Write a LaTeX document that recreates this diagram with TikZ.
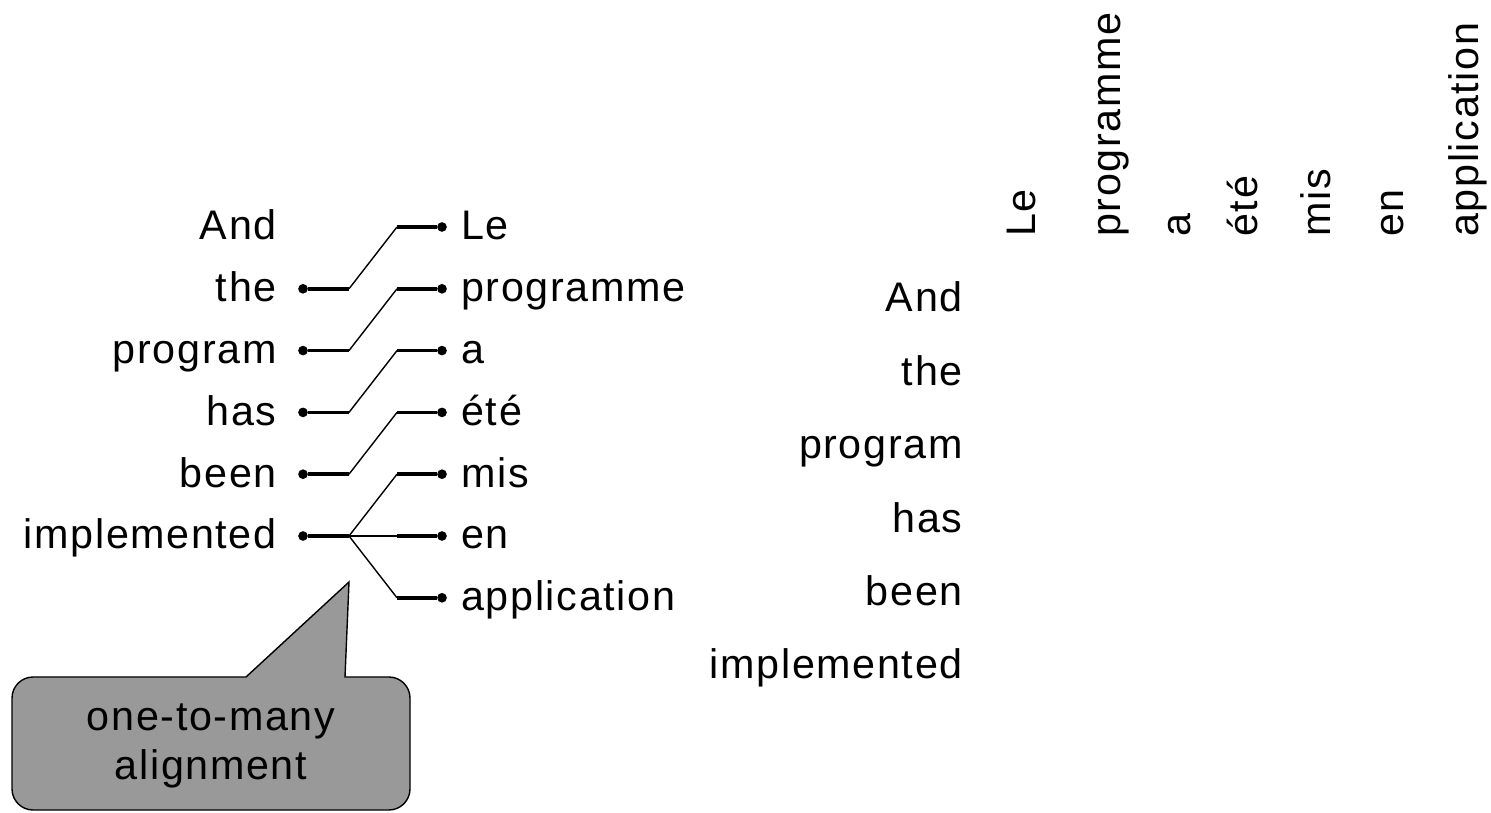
\documentclass[tikz,border=0pt]{standalone}
\usepackage{fontspec}
\setmainfont{Liberation Sans}[LetterSpace=4]
\usepackage{tikz}
\usetikzlibrary{positioning}
\definecolor{noteGray}{HTML}{999999}

\begin{document}
\begin{tikzpicture}[x=0.02cm, y=-0.02cm, font=\fontsize{23.5}{26}\selectfont,
  word/.style={inner sep=0pt},
  dot/.style={circle, fill, inner sep=0pt, minimum size=5.5pt},
  link/.style={line width=2pt},
  slant/.style={line width=0.8pt}]
  \useasboundingbox (0,0) rectangle (1491,813);
  % english words, dots and bend points
  \foreach \i/\w in {1/And, 2/the, 3/program, 4/has, 5/been, 6/implemented}{
    \node[word, anchor=base east] (en\i) at (277,{240+61.8*(\i-1)}) {\w};
  }
  \foreach \i in {2,...,6}{
    \node[dot] (ed\i) at (303,{227+61.8*(\i-1)}) {};
    \coordinate (lb\i) at (349,{227+61.8*(\i-1)});
  }
  % french words
  \foreach \j/\w in {1/Le, 2/programme, 3/a, 4/{été}, 5/mis, 6/en, 7/application}{
    \node[word, anchor=base west] (fr\j) at (461,{240+61.8*(\j-1)}) {\w};
    \node[dot] (fd\j) at (442,{227+61.8*(\j-1)}) {};
    \coordinate (rb\j) at (397,{227+61.8*(\j-1)});
  }
  % links
  \foreach \i/\j in {2/1, 3/2, 4/3, 5/4, 6/5, 6/6, 6/7}{
    \draw[link] (ed\i) -- (lb\i);
    \draw[slant] (lb\i) -- (rb\j);
    \draw[link] (rb\j) -- (fd\j);
  }
  % grid labels
  \foreach \i/\w in {1/And, 2/the, 3/program, 4/has, 5/been, 6/implemented}{
    \node[word, anchor=base east] (row\i) at (963,{312+73.4*(\i-1)}) {\w};
  }
  \foreach \j/\x/\w in {1/1035/Le, 2/1120/programme, 3/1190/a, 4/1257/{été}, 5/1330/mis, 6/1403/en, 7/1478/application}{
    \node[word, rotate=90, anchor=base west] (col\j) at (\x,237) {\w};
  }
  % callout
  \draw[fill=noteGray, line width=0.8pt] (246,677) -- (349,582) -- (345,677)
    [rounded corners=12pt] -- (410,677) -- (410,810) -- (12,810) -- (12,677)
    [sharp corners] -- cycle;
  \node[align=center, font=\fontsize{23.5}{27.5}\selectfont] (note) at (211,746) {one-to-many\\alignment};
\end{tikzpicture}
\end{document}
